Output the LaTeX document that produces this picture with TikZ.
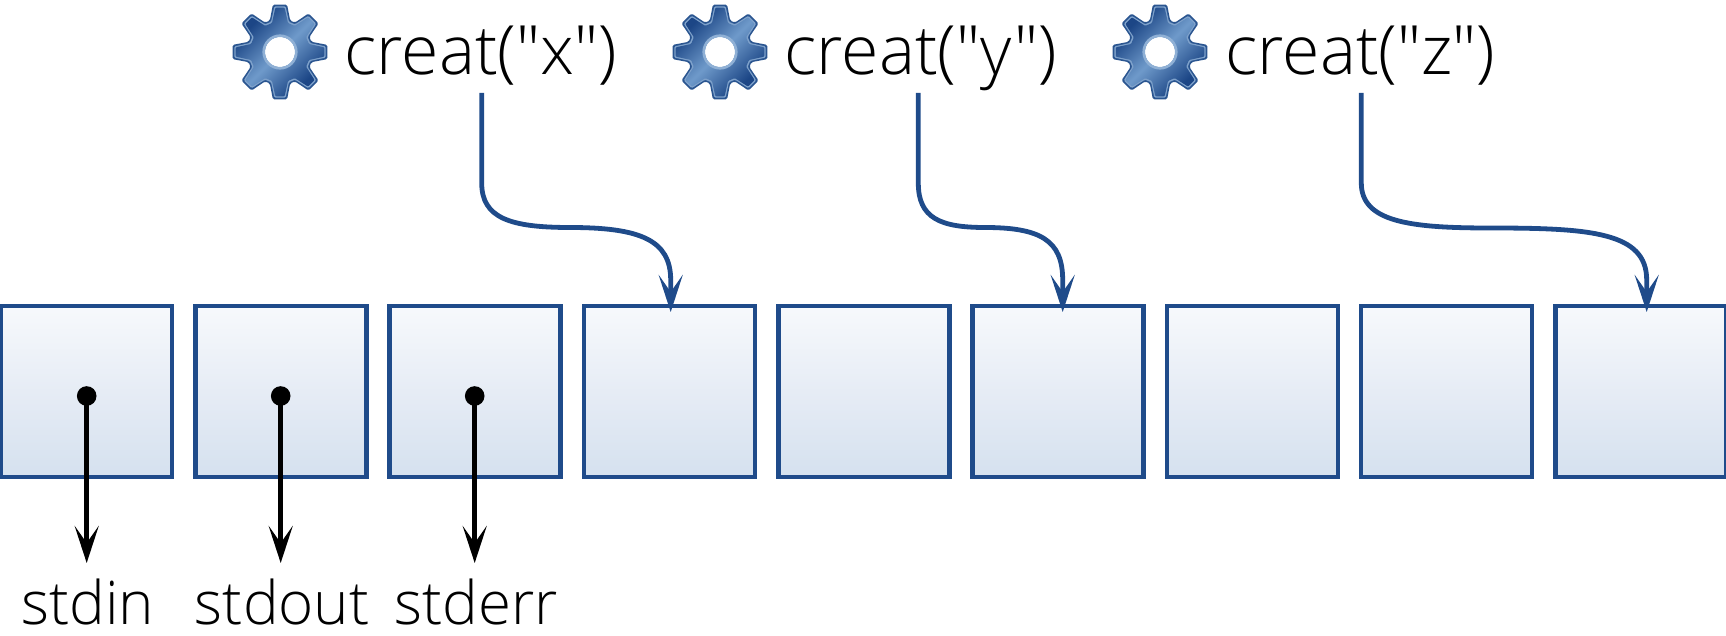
\documentclass[tikz,border=0pt]{standalone}
\usepackage{fontspec}
\setmainfont[UprightFont=* Light,Ligatures=TeXOff]{Open Sans}
\usetikzlibrary{arrows.meta}
\definecolor{cblue}{HTML}{1F4B8A}
\definecolor{gdark}{HTML}{1C4686}
\definecolor{gmid}{HTML}{6F9ACA}
\definecolor{gedge}{HTML}{2A5590}
\definecolor{gstroke}{HTML}{7FA2CB}
\definecolor{gring}{HTML}{8FB0D5}
\definecolor{boxtop}{HTML}{F7F9FC}
\definecolor{boxmid}{HTML}{E6ECF5}
\definecolor{boxbot}{HTML}{D5E1EF}
\pgfdeclarehorizontalshading{gearshade}{100bp}{color(0bp)=(gdark); color(28bp)=(gdark); color(50bp)=(gmid); color(72bp)=(gdark); color(100bp)=(gdark)}
\tikzset{
  x=0.5pt,y=-0.5pt,
  cellbox/.style={draw=cblue,line width=2.3pt,minimum width=85.5pt,minimum height=85.5pt,inner sep=0pt,outer sep=0pt,top color=boxtop,bottom color=boxbot,middle color=boxmid},
  blueconn/.style={draw=cblue,line width=2.4pt,-{Stealth[length=18.5pt,width=12pt,inset=8.5pt]}},
  blackconn/.style={draw=black,line width=2.4pt,-{Stealth[length=18.5pt,width=12pt,inset=8.5pt]}},
  pin/.style={circle,fill=black,minimum size=9.8pt,inner sep=0pt,outer sep=0pt},
  biglabel/.style={font=\fontsize{34}{40}\selectfont,anchor=base west,inner sep=0pt,text=black},
  smalllabel/.style={font=\fontsize{30}{35}\selectfont,anchor=base,inner sep=0pt,text=black},
}
% #1 options, #2 tip radius, #3 root radius, #4 tip half angle, #5 base half angle
\newcommand{\gearshape}[5]{%
  \path[#1] (-#4:#2) \foreach \k in {0,45,...,315}{
    -- (\k+#4:#2) -- (\k+#5:#3) -- (\k+45-#5:#3) -- (\k+45-#4:#2)} -- cycle;}
\newcommand{\drawgear}[2]{%
  \begin{scope}[shift={(#1,#2)},x=0.5pt,y=0.5pt]
    \gearshape{fill=gedge,rounded corners=0.8pt}{48}{33}{8.5}{18}
    \gearshape{fill=gstroke,rounded corners=0.6pt}{46}{31.5}{7}{16.5}
    \gearshape{shading=gearshade,shading angle=-45,rounded corners=0.5pt}{44.5}{30}{6}{15.5}
    \fill[white] (0,0) circle (15);
    \draw[gring,line width=1.3pt] (0,0) circle (16.3);
  \end{scope}}
\begin{document}
\begin{tikzpicture}
\useasboundingbox (0,0) rectangle (1726,636);
\foreach \i in {1,...,9}{
  \node[cellbox] (b\i) at ({86.5+194.3*(\i-1)},391.5) {};
}
\foreach \gx in {280,720,1160}{\drawgear{\gx}{52}}
\node[biglabel] (cx) at (344,75) {creat("x")};
\node[biglabel] (cy) at (784,75) {creat("y")};
\node[biglabel] (cz) at (1225,75) {creat("z")};
\coordinate (sx) at (481.7,93);
\coordinate (sy) at (918.3,93);
\coordinate (sz) at (1361.3,93);
\draw[blueconn] (sx) -- (481.7,183) .. controls (481.7,218) and (510,227.5) .. (570,227.5)
  .. controls (640,227.5) and (670.7,240) .. (670.7,280) -- (670.7,312);
\draw[blueconn] (sy) -- (918.3,183) .. controls (918.3,218) and (940,227.5) .. (985,227.5)
  .. controls (1040,227.5) and (1062.7,240) .. (1062.7,280) -- (1062.7,312);
\draw[blueconn] (sz) -- (1361.3,183) .. controls (1361.3,222) and (1410,228) .. (1490,228)
  .. controls (1590,228) and (1646.7,232) .. (1646.7,280) -- (1646.7,312);
\foreach \i/\lab/\xx/\lx in {1/stdin/86.7/87.7,2/stdout/280.7/282.2,3/stderr/474.7/476.2}{
  \node[pin] (p\i) at (\xx,396) {};
  \node[smalllabel] (l\i) at (\lx,624.5) {\lab};
  \coordinate (e\i) at (\xx,563);
  \draw[blackconn] (p\i.center) -- (e\i);
}
\end{tikzpicture}
\end{document}
